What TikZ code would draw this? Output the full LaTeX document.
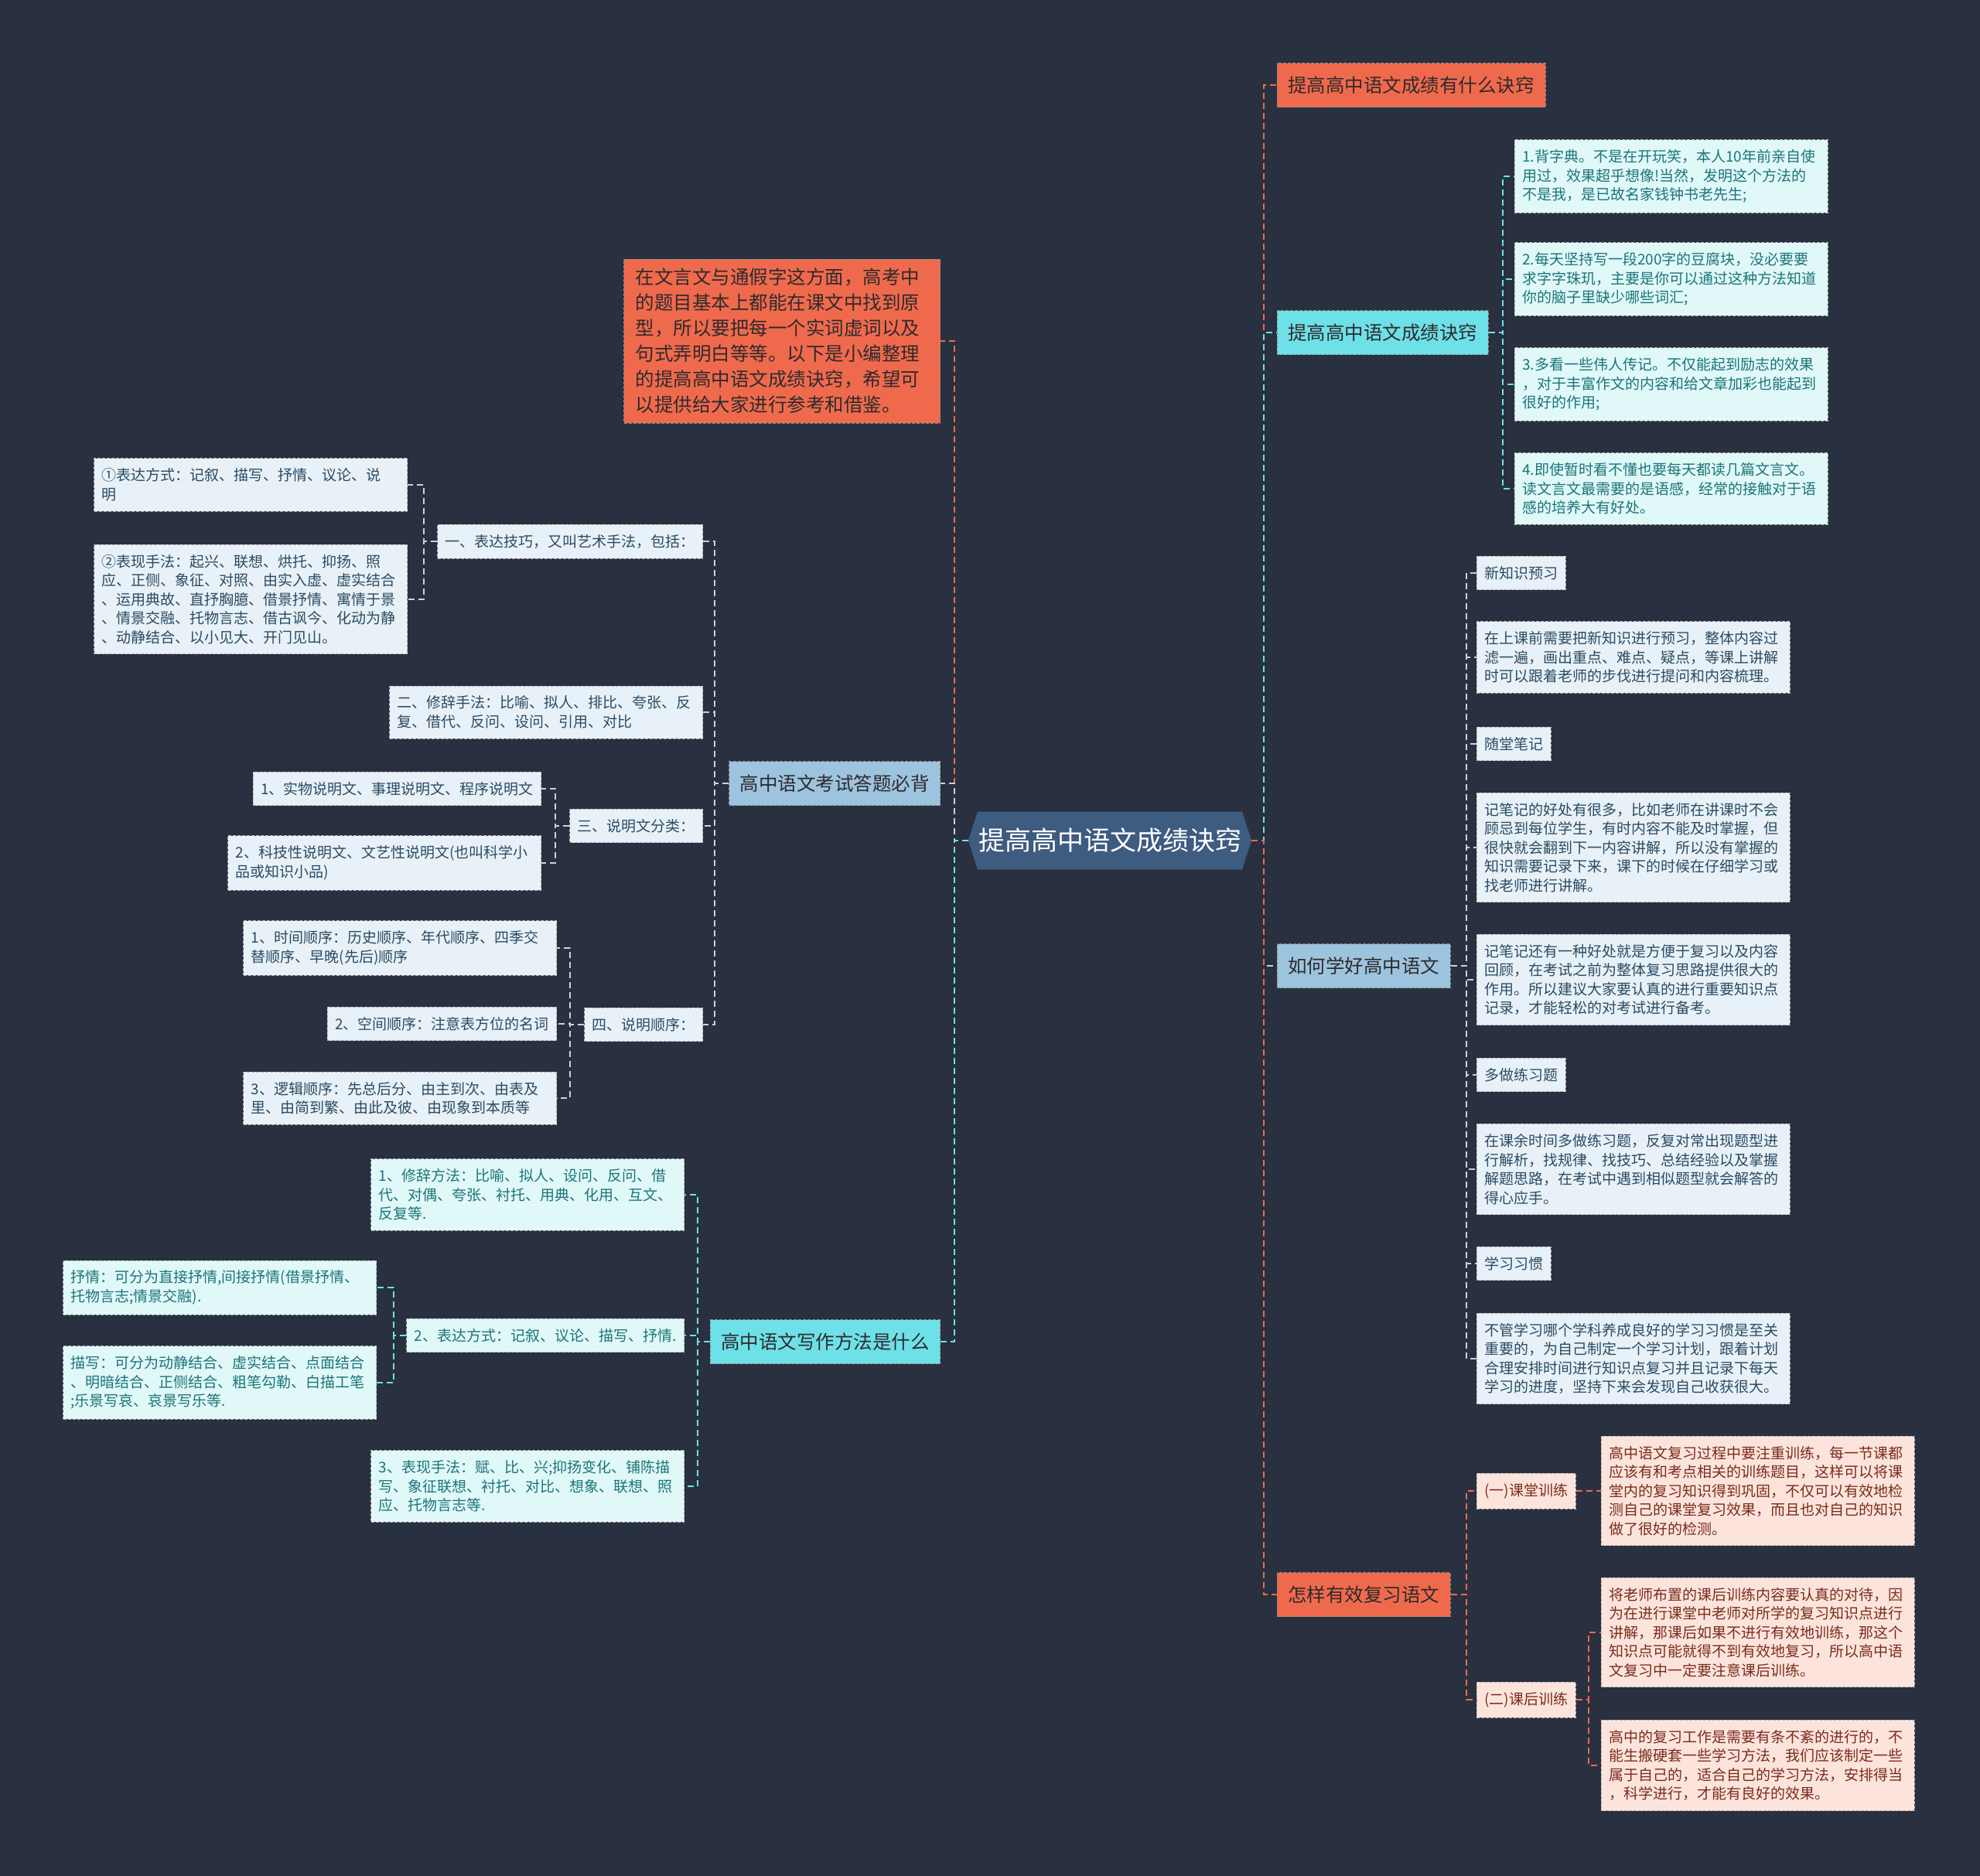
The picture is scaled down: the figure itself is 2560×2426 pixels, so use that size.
\documentclass[tikz,border=0pt]{standalone}
\usepackage{fontspec}
\setmainfont{Noto Sans CJK SC}
\usetikzlibrary{positioning, shapes.symbols}

\definecolor{bgcol}{HTML}{29303F}
\definecolor{hexcol}{HTML}{3E5B80}
\definecolor{orangecol}{HTML}{EF6A4C}
\definecolor{cyancol}{HTML}{6DE1E7}
\definecolor{bluecol}{HTML}{9DC4DE}
\definecolor{greycol}{HTML}{C5D3DF}
\definecolor{tealbg}{HTML}{E0F8F8}
\definecolor{tealtx}{HTML}{1D7479}
\definecolor{bluebg}{HTML}{E8F1F7}
\definecolor{bluetx}{HTML}{2B4B63}
\definecolor{peachbg}{HTML}{FCE4DC}
\definecolor{peachtx}{HTML}{7A2C1C}
\definecolor{darktx}{HTML}{2E2A2E}

\begin{document}
\begin{tikzpicture}[
        x=1pt, y=-1pt,
        main/.style={rectangle, fill=#1, draw=black!45, dash pattern=on 4pt off 2pt, line width=0.8pt, inner xsep=14pt, minimum height=57pt, text=darktx, font=\fontsize{24.5pt}{30pt}\selectfont},
        leaf/.style={rectangle, fill=#1, draw=black!30, dash pattern=on 4pt off 2pt, line width=0.8pt, inner xsep=10pt, inner ysep=13pt, align=left, font=\fontsize{19pt}{24.5pt}\selectfont},
        tleaf/.style={leaf=tealbg, text=tealtx},
        bleaf/.style={leaf=bluebg, text=bluetx},
        pleaf/.style={leaf=peachbg, text=peachtx},
        para/.style={text width=385pt},
        link/.style={draw=#1, line width=2.2pt, dash pattern=on 8pt off 5pt},
    ]
    % Background
    \useasboundingbox (0,0) rectangle (2560,2426);
    \fill[bgcol] (0,0) rectangle (2560,2426);

    % Centre
    \node[signal, signal to=west and east, signal pointer angle=144, fill=hexcol, text=white, inner xsep=1pt, minimum height=75pt, font=\fontsize{34pt}{40pt}\selectfont] (ctr) at (1435,1087) {提高高中语文成绩诀窍};
    \coordinate (lt) at (1234,1087);
    \coordinate (rt) at (1634,1087);

    % Right branches
    \node[main=orangecol, anchor=west] (rb1) at (1651,110) {提高高中语文成绩有什么诀窍};
    \node[main=cyancol, anchor=west] (rb2) at (1651,430) {提高高中语文成绩诀窍};
    \node[main=bluecol, anchor=west] (rb3) at (1651,1249) {如何学好高中语文};
    \node[main=orangecol, anchor=west] (rb4) at (1651,2062) {怎样有效复习语文};

    % Left branches
    \node[main=orangecol, anchor=east, align=left, text width=379pt, inner xsep=15pt, inner ysep=12pt, font=\fontsize{24.5pt}{33pt}\selectfont] (intro) at (1216,441) {在文言文与通假字这方面，高考中\\的题目基本上都能在课文中找到原\\型，所以要把每一个实词虚词以及\\句式弄明白等等。以下是小编整理\\的提高高中语文成绩诀窍，希望可\\以提供给大家进行参考和借鉴。};
    \node[main=bluecol, anchor=east] (lb1) at (1216,1013) {高中语文考试答题必背};
    \node[main=cyancol, anchor=east] (lb2) at (1216,1735) {高中语文写作方法是什么};

    % Tips
    \node[tleaf, para, anchor=west] (k1) at (1958,228) {1.背字典。不是在开玩笑，本人10年前亲自使\\用过，效果超乎想像!当然，发明这个方法的\\不是我，是已故名家钱钟书老先生;};
    \node[tleaf, para, anchor=west] (k2) at (1958,361) {2.每天坚持写一段200字的豆腐块，没必要要\\求字字珠玑，主要是你可以通过这种方法知道\\你的脑子里缺少哪些词汇;};
    \node[tleaf, para, anchor=west] (k3) at (1958,497) {3.多看一些伟人传记。不仅能起到励志的效果\\，对于丰富作文的内容和给文章加彩也能起到\\很好的作用;};
    \node[tleaf, para, anchor=west] (k4) at (1958,632) {4.即使暂时看不懂也要每天都读几篇文言文。\\读文言文最需要的是语感，经常的接触对于语\\感的培养大有好处。};

    % How to learn
    \node[bleaf, anchor=west] (n1) at (1909,741) {新知识预习};
    \node[bleaf, para, anchor=west] (n2) at (1909,850) {在上课前需要把新知识进行预习，整体内容过\\滤一遍，画出重点、难点、疑点，等课上讲解\\时可以跟着老师的步伐进行提问和内容梳理。};
    \node[bleaf, anchor=west] (n3) at (1909,962) {随堂笔记};
    \node[bleaf, para, anchor=west] (n4) at (1909,1096) {记笔记的好处有很多，比如老师在讲课时不会\\顾忌到每位学生，有时内容不能及时掌握，但\\很快就会翻到下一内容讲解，所以没有掌握的\\知识需要记录下来，课下的时候在仔细学习或\\找老师进行讲解。};
    \node[bleaf, para, anchor=west] (n5) at (1909,1267) {记笔记还有一种好处就是方便于复习以及内容\\回顾，在考试之前为整体复习思路提供很大的\\作用。所以建议大家要认真的进行重要知识点\\记录，才能轻松的对考试进行备考。};
    \node[bleaf, anchor=west] (n6) at (1909,1390) {多做练习题};
    \node[bleaf, para, anchor=west] (n7) at (1909,1512) {在课余时间多做练习题，反复对常出现题型进\\行解析，找规律、找技巧、总结经验以及掌握\\解题思路，在考试中遇到相似题型就会解答的\\得心应手。};
    \node[bleaf, anchor=west] (n8) at (1909,1634) {学习习惯};
    \node[bleaf, para, anchor=west] (n9) at (1909,1757) {不管学习哪个学科养成良好的学习习惯是至关\\重要的，为自己制定一个学习计划，跟着计划\\合理安排时间进行知识点复习并且记录下每天\\学习的进度，坚持下来会发现自己收获很大。};

    % Review
    \node[pleaf, anchor=west] (p1) at (1909,1928) {(一)课堂训练};
    \node[pleaf, anchor=west] (p2) at (1909,2198) {(二)课后训练};
    \node[pleaf, para, anchor=west] (g1) at (2070,1928) {高中语文复习过程中要注重训练，每一节课都\\应该有和考点相关的训练题目，这样可以将课\\堂内的复习知识得到巩固，不仅可以有效地检\\测自己的课堂复习效果，而且也对自己的知识\\做了很好的检测。};
    \node[pleaf, para, anchor=west] (g2) at (2070,2111) {将老师布置的课后训练内容要认真的对待，因\\为在进行课堂中老师对所学的复习知识点进行\\讲解，那课后如果不进行有效地训练，那这个\\知识点可能就得不到有效地复习，所以高中语\\文复习中一定要注意课后训练。};
    \node[pleaf, para, anchor=west] (g3) at (2070,2283) {高中的复习工作是需要有条不紊的进行的，不\\能生搬硬套一些学习方法，我们应该制定一些\\属于自己的，适合自己的学习方法，安排得当\\，科学进行，才能有良好的效果。};

    % Exam answers
    \node[bleaf, anchor=east] (a1) at (909,700) {一、表达技巧，又叫艺术手法，包括：};
    \node[bleaf, para, anchor=east] (a11) at (527,627) {①表达方式：记叙、描写、抒情、议论、说\\明};
    \node[bleaf, para, anchor=east] (a12) at (527,775) {②表现手法：起兴、联想、烘托、抑扬、照\\应、正侧、象征、对照、由实入虚、虚实结合\\、运用典故、直抒胸臆、借景抒情、寓情于景\\、情景交融、托物言志、借古讽今、化动为静\\、动静结合、以小见大、开门见山。};
    \node[bleaf, para, anchor=east] (a2) at (909,921) {二、修辞手法：比喻、拟人、排比、夸张、反\\复、借代、反问、设问、引用、对比};
    \node[bleaf, anchor=east] (a3) at (909,1068) {三、说明文分类：};
    \node[bleaf, anchor=east] (a31) at (700,1020) {1、实物说明文、事理说明文、程序说明文};
    \node[bleaf, para, anchor=east] (a32) at (700,1116) {2、科技性说明文、文艺性说明文(也叫科学小\\品或知识小品)};
    \node[bleaf, anchor=east] (a4) at (909,1325) {四、说明顺序：};
    \node[bleaf, para, anchor=east] (a41) at (720,1226) {1、时间顺序：历史顺序、年代顺序、四季交\\替顺序、早晚(先后)顺序};
    \node[bleaf, anchor=east] (a42) at (720,1324) {2、空间顺序：注意表方位的名词};
    \node[bleaf, para, anchor=east] (a43) at (720,1420) {3、逻辑顺序：先总后分、由主到次、由表及\\里、由简到繁、由此及彼、由现象到本质等};

    % Writing
    \node[tleaf, para, anchor=east] (w1) at (885,1545) {1、修辞方法：比喻、拟人、设问、反问、借\\代、对偶、夸张、衬托、用典、化用、互文、\\反复等.};
    \node[tleaf, anchor=east] (w2) at (885,1727) {2、表达方式：记叙、议论、描写、抒情.};
    \node[tleaf, para, anchor=east] (w21) at (487,1665) {抒情：可分为直接抒情,间接抒情(借景抒情、\\托物言志;情景交融).};
    \node[tleaf, para, anchor=east] (w22) at (487,1788) {描写：可分为动静结合、虚实结合、点面结合\\、明暗结合、正侧结合、粗笔勾勒、白描工笔\\;乐景写哀、哀景写乐等.};
    \node[tleaf, para, anchor=east] (w3) at (885,1922) {3、表现手法：赋、比、兴;抑扬变化、铺陈描\\写、象征联想、衬托、对比、想象、联想、照\\应、托物言志等.};

    % Main links
    \draw[link=orangecol] (ctr.east) -- (rt) |- (rb1.west);
    \draw[link=cyancol] (ctr.east) -- (rt) |- (rb2.west);
    \draw[link=greycol] (ctr.east) -- (rt) |- (rb3.west);
    \draw[link=orangecol] (ctr.east) -- (rt) |- (rb4.west);
    \draw[link=orangecol] (ctr.west) -- (lt) |- (intro.east);
    \draw[link=greycol] (ctr.west) -- (lt) |- (lb1.east);
    \draw[link=cyancol] (ctr.west) -- (lt) |- (lb2.east);

    % Sub links
    \draw[link=cyancol] (rb2.east) -- ++(18,0) |- (k1.west);
    \draw[link=cyancol] (rb2.east) -- ++(18,0) |- (k2.west);
    \draw[link=cyancol] (rb2.east) -- ++(18,0) |- (k3.west);
    \draw[link=cyancol] (rb2.east) -- ++(18,0) |- (k4.west);

    \draw[link=greycol] (rb3.east) -- ++(20,0) |- (n1.west);
    \draw[link=greycol] (rb3.east) -- ++(20,0) |- (n2.west);
    \draw[link=greycol] (rb3.east) -- ++(20,0) |- (n3.west);
    \draw[link=greycol] (rb3.east) -- ++(20,0) |- (n4.west);
    \draw[link=greycol] (rb3.east) -- ++(20,0) |- (n5.west);
    \draw[link=greycol] (rb3.east) -- ++(20,0) |- (n6.west);
    \draw[link=greycol] (rb3.east) -- ++(20,0) |- (n7.west);
    \draw[link=greycol] (rb3.east) -- ++(20,0) |- (n8.west);
    \draw[link=greycol] (rb3.east) -- ++(20,0) |- (n9.west);

    \draw[link=orangecol] (rb4.east) -- ++(20,0) |- (p1.west);
    \draw[link=orangecol] (rb4.east) -- ++(20,0) |- (p2.west);
    \draw[link=orangecol] (p1.east) -- (g1.west);
    \draw[link=orangecol] (p2.east) -- ++(16,0) |- (g2.west);
    \draw[link=orangecol] (p2.east) -- ++(16,0) |- (g3.west);

    \draw[link=greycol] (lb1.west) -- ++(-18,0) |- (a1.east);
    \draw[link=greycol] (lb1.west) -- ++(-18,0) |- (a2.east);
    \draw[link=greycol] (lb1.west) -- ++(-18,0) |- (a3.east);
    \draw[link=greycol] (lb1.west) -- ++(-18,0) |- (a4.east);
    \draw[link=greycol] (a1.west) -- ++(-17,0) |- (a11.east);
    \draw[link=greycol] (a1.west) -- ++(-17,0) |- (a12.east);
    \draw[link=greycol] (a3.west) -- ++(-18,0) |- (a31.east);
    \draw[link=greycol] (a3.west) -- ++(-18,0) |- (a32.east);
    \draw[link=greycol] (a4.west) -- ++(-18,0) |- (a41.east);
    \draw[link=greycol] (a4.west) -- ++(-18,0) |- (a42.east);
    \draw[link=greycol] (a4.west) -- ++(-18,0) |- (a43.east);

    \draw[link=cyancol] (lb2.west) -- ++(-16,0) |- (w1.east);
    \draw[link=cyancol] (lb2.west) -- ++(-16,0) |- (w2.east);
    \draw[link=cyancol] (lb2.west) -- ++(-16,0) |- (w3.east);
    \draw[link=cyancol] (w2.west) -- ++(-16,0) |- (w21.east);
    \draw[link=cyancol] (w2.west) -- ++(-16,0) |- (w22.east);
\end{tikzpicture}
\end{document}
